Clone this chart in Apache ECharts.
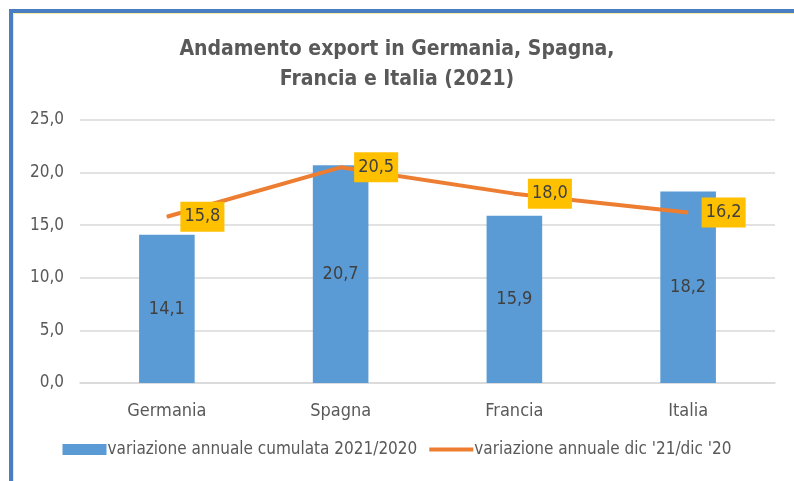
<!DOCTYPE html>
<html>
<head>
    <meta charset="utf-8">
    <title>Andamento export</title>
    <script src="https://cdn.jsdelivr.net/npm/echarts@6/dist/echarts.min.js"></script>
    <style>
        body { margin: 0; background: #fff; }
    </style>
</head>
<body>
<div id="main" style="width: 794px;height:481px;"></div>
<script type="text/javascript">
    var categories = ['Germania', 'Spagna', 'Francia', 'Italia'];
    var cumulata = [14.1, 20.7, 15.9, 18.2];
    var dicembre = [15.8, 20.5, 18.0, 16.2];
    var yTicks = [0, 5, 10, 15, 20, 25];

    var font = '"Liberation Sans Narrow", "DejaVu Sans Condensed", sans-serif';
    function virgola(v) {
        return Number(v).toFixed(1).replace('.', ',');
    }

    var myChart = echarts.init(document.getElementById('main'));
    myChart.setOption({
        backgroundColor: '#fff',
        animation: false,
        title: {
            text: 'Andamento export in Germania, Spagna,\nFrancia e Italia (2021)',
            left: 'center',
            top: 30,
            textStyle: {
                fontFamily: font,
                fontSize: 21,
                fontWeight: 'bold',
                color: '#595959',
                lineHeight: 30
            }
        },
        // bordo blu del riquadro
        graphic: [
            { type: 'rect', shape: { x: 9, y: 9, width: 785, height: 4 }, style: { fill: '#4a7ec0' } },
            { type: 'rect', shape: { x: 9, y: 9, width: 4, height: 472 }, style: { fill: '#4a7ec0' } },
            { type: 'rect', shape: { x: 13, y: 13, width: 781, height: 1 }, style: { fill: '#f3eea0' } },
            { type: 'rect', shape: { x: 13, y: 13, width: 1, height: 468 }, style: { fill: '#f3eea0' } }
        ],
        legend: {
            bottom: 18,
            left: 'center',
            itemGap: 10,
            itemWidth: 44,
            itemHeight: 11,
            textStyle: { fontFamily: font, fontSize: 17, color: '#595959', padding: [0, 0, 0, -4] },
            data: [
                { name: 'variazione annuale cumulata 2021/2020', icon: 'rect', itemStyle: { color: '#5b9bd5' } },
                { name: "variazione annuale dic '21/dic '20", itemStyle: { opacity: 0 }, lineStyle: { color: '#ed7d31', width: 4 } }
            ]
        },
        grid: {
            left: 80,
            right: 19,
            top: 120,
            bottom: 98
        },
        xAxis: {
            type: 'category',
            data: categories,
            axisTick: { show: false },
            axisLine: { lineStyle: { color: '#d9d9d9', width: 1.5 } },
            axisLabel: { fontFamily: font, fontSize: 18, color: '#595959', margin: 19 }
        },
        yAxis: {
            type: 'value',
            min: yTicks[0],
            max: yTicks[yTicks.length - 1],
            interval: 5,
            axisLine: { show: false },
            axisTick: { show: false },
            splitLine: { lineStyle: { color: '#d9d9d9', width: 1.5 } },
            axisLabel: {
                fontFamily: font,
                fontSize: 17,
                color: '#595959',
                margin: 16,
                formatter: virgola
            }
        },
        series: [
            {
                name: 'variazione annuale cumulata 2021/2020',
                type: 'bar',
                data: cumulata,
                barWidth: '32%',
                itemStyle: { color: '#5b9bd5' },
                label: {
                    show: true,
                    position: 'inside',
                    fontFamily: font,
                    fontSize: 18,
                    color: '#404040',
                    formatter: function (p) { return virgola(p.value); }
                }
            },
            {
                name: "variazione annuale dic '21/dic '20",
                type: 'line',
                data: dicembre,
                symbol: 'circle',
                symbolSize: 1,
                lineStyle: { color: '#ed7d31', width: 4 },
                itemStyle: { color: '#ed7d31' },
                label: {
                    show: true,
                    position: 'right',
                    distance: 13,
                    fontFamily: font,
                    fontSize: 18,
                    color: '#404040',
                    backgroundColor: '#ffc000',
                    padding: [6, 4, 6, 4],
                    formatter: function (p) { return virgola(p.value); }
                }
            }
        ]
    });
</script>
</body>
</html>
